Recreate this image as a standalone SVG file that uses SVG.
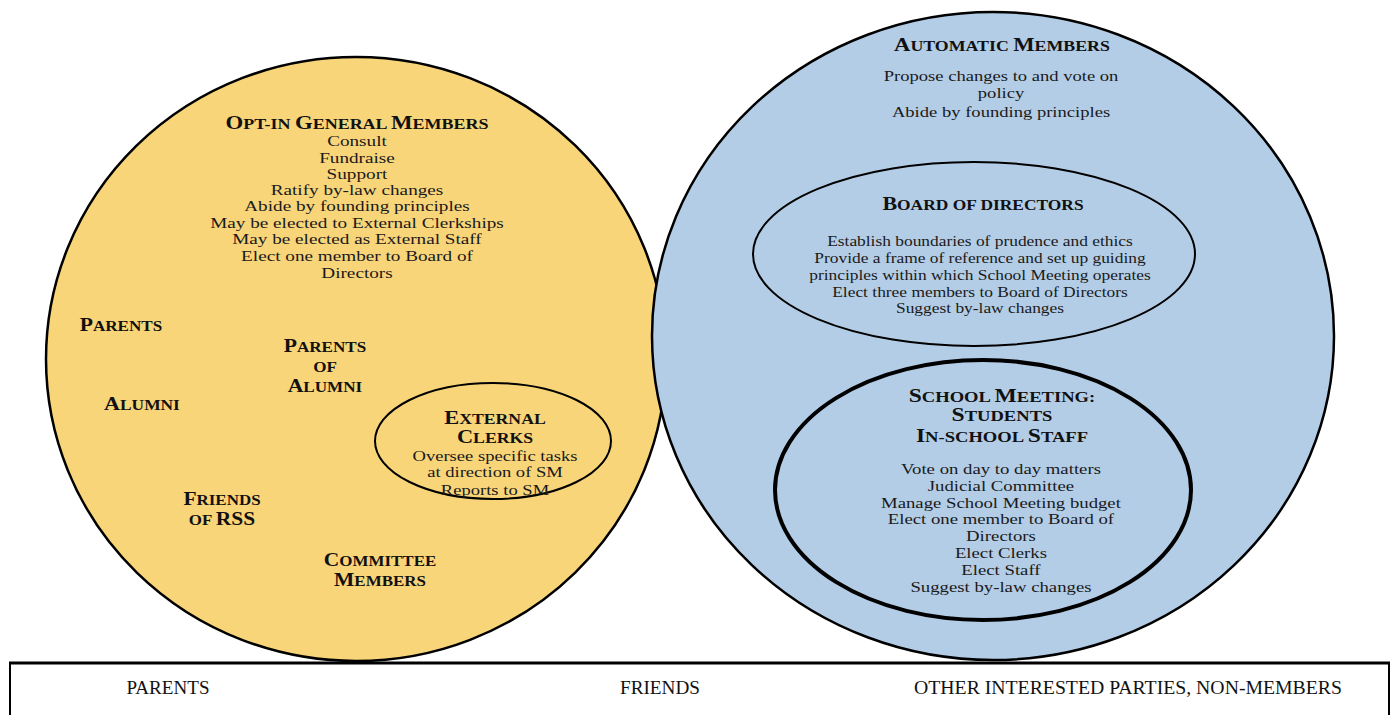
<svg xmlns="http://www.w3.org/2000/svg" width="1395" height="715" viewBox="0 0 1395 715">
<style>
text{font-family:"Liberation Serif","Times New Roman",serif;fill:#1a1a1a}
.b{font-size:15px;text-anchor:middle}
.h{font-size:19px;font-weight:bold;text-anchor:middle;fill:#111}
.s{font-size:15px}
.f{font-size:18px;text-anchor:middle;fill:#111}
.ln{stroke:#000;fill:none}
</style>
<rect width="1395" height="715" fill="#fff"/>
<g id="opt-in">
<ellipse cx="356" cy="359" rx="310" ry="302" fill="#f9d57a" stroke="#000" stroke-width="2.5"/>
<text class="h" x="357" y="129" transform="matrix(1.2,0,0,1,-71.4,0)">O<tspan class="s">PT-IN </tspan>G<tspan class="s">ENERAL </tspan>M<tspan class="s">EMBERS</tspan></text>
<g transform="matrix(1.28,0,0,1,-99.96,0)">
<text class="b" x="357" y="146">Consult</text>
<text class="b" x="357" y="163">Fundraise</text>
<text class="b" x="357" y="179">Support</text>
<text class="b" x="357" y="195">Ratify by-law changes</text>
<text class="b" x="357" y="211">Abide by founding principles</text>
<text class="b" x="357" y="228">May be elected to External Clerkships</text>
<text class="b" x="357" y="244">May be elected as External Staff</text>
<text class="b" x="357" y="261">Elect one member to Board of</text>
<text class="b" x="357" y="278">Directors</text>
</g>
</g>
<g id="parents">
<text class="h" x="121" y="331" transform="matrix(1.14,0,0,1,-16.94,0)">P<tspan class="s">ARENTS</tspan></text>
</g>
<g id="parents-of-alumni" transform="matrix(1.14,0,0,1,-45.5,0)">
<text class="h" x="325" y="352">P<tspan class="s">ARENTS</tspan></text>
<text class="h" x="325" y="372"><tspan class="s">OF</tspan></text>
<text class="h" x="325" y="392">A<tspan class="s">LUMNI</tspan></text>
</g>
<g id="alumni">
<text class="h" x="142" y="410" transform="matrix(1.16,0,0,1,-22.72,0)">A<tspan class="s">LUMNI</tspan></text>
</g>
<g id="friends-of-rss" transform="matrix(1.13,0,0,1,-28.86,0)">
<text class="h" x="222" y="505">F<tspan class="s">RIENDS</tspan></text>
<text class="h" x="222" y="525"><tspan class="s">OF </tspan>RSS</text>
</g>
<g id="committee-members" transform="matrix(1.13,0,0,1,-49.4,0)">
<text class="h" x="380" y="566">C<tspan class="s">OMMITTEE</tspan></text>
<text class="h" x="380" y="586">M<tspan class="s">EMBERS</tspan></text>
</g>
<g id="automatic">
<ellipse cx="993" cy="336" rx="341" ry="324" fill="#b4cde6" stroke="#000" stroke-width="2.5"/>
<text class="h" x="1002" y="51" transform="matrix(1.19,0,0,1,-190.4,0)">A<tspan class="s">UTOMATIC </tspan>M<tspan class="s">EMBERS</tspan></text>
<g transform="matrix(1.24,0,0,1,-240.2,0)">
<text class="b" x="1001" y="81">Propose changes to and vote on</text>
<text class="b" x="1001" y="98">policy</text>
<text class="b" x="1001" y="117">Abide by founding principles</text>
</g>
</g>
<g id="external-clerks">
<ellipse cx="493" cy="441" rx="118" ry="58" class="ln" stroke-width="2"/>
<g transform="matrix(1.18,0,0,1,-89.1,0)">
<text class="h" x="495" y="424">E<tspan class="s">XTERNAL</tspan></text>
<text class="h" x="495" y="443">C<tspan class="s">LERKS</tspan></text>
</g>
<g transform="matrix(1.24,0,0,1,-118.8,0)">
<text class="b" x="495" y="461">Oversee specific tasks</text>
<text class="b" x="495" y="477">at direction of SM</text>
<text class="b" x="495" y="495">Reports to SM</text>
</g>
</g>
<g id="board">
<ellipse cx="974" cy="254" rx="221" ry="92" class="ln" stroke-width="2"/>
<text class="h" x="983" y="210" transform="matrix(1.16,0,0,1,-157.3,0)">B<tspan class="s">OARD OF DIRECTORS</tspan></text>
<g transform="matrix(1.16,0,0,1,-156.8,0)">
<text class="b" x="980" y="246">Establish boundaries of prudence and ethics</text>
<text class="b" x="980" y="263">Provide a frame of reference and set up guiding</text>
<text class="b" x="980" y="280">principles within which School Meeting operates</text>
<text class="b" x="980" y="297">Elect three members to Board of Directors</text>
<text class="b" x="980" y="313">Suggest by-law changes</text>
</g>
</g>
<g id="school-meeting">
<ellipse cx="983" cy="490" rx="208" ry="130" class="ln" stroke-width="4"/>
<g transform="matrix(1.24,0,0,1,-240.5,0)">
<text class="h" x="1002" y="402">S<tspan class="s">CHOOL </tspan>M<tspan class="s">EETING:</tspan></text>
<text class="h" x="1002" y="421">S<tspan class="s">TUDENTS</tspan></text>
<text class="h" x="1002" y="442">I<tspan class="s">N-SCHOOL </tspan>S<tspan class="s">TAFF</tspan></text>
</g>
<g transform="matrix(1.25,0,0,1,-250.3,0)">
<text class="b" x="1001" y="474">Vote on day to day matters</text>
<text class="b" x="1001" y="491">Judicial Committee</text>
<text class="b" x="1001" y="508">Manage School Meeting budget</text>
<text class="b" x="1001" y="524">Elect one member to Board of</text>
<text class="b" x="1001" y="541">Directors</text>
<text class="b" x="1001" y="558">Elect Clerks</text>
<text class="b" x="1001" y="575">Elect Staff</text>
<text class="b" x="1001" y="592">Suggest by-law changes</text>
</g>
</g>
<g id="non-members">
<rect x="10" y="663" width="1379" height="60" fill="#fff" stroke="#000" stroke-width="2"/>
<line x1="9" y1="663" x2="1390" y2="663" stroke="#000" stroke-width="3"/>
<text class="f" x="168" y="694" textLength="83" lengthAdjust="spacingAndGlyphs">PARENTS</text>
<text class="f" x="660" y="694" textLength="80" lengthAdjust="spacingAndGlyphs">FRIENDS</text>
<text class="f" x="1128" y="694" textLength="428" lengthAdjust="spacingAndGlyphs">OTHER INTERESTED PARTIES, NON-MEMBERS</text>
</g>
<g id="connectors"></g>
</svg>
